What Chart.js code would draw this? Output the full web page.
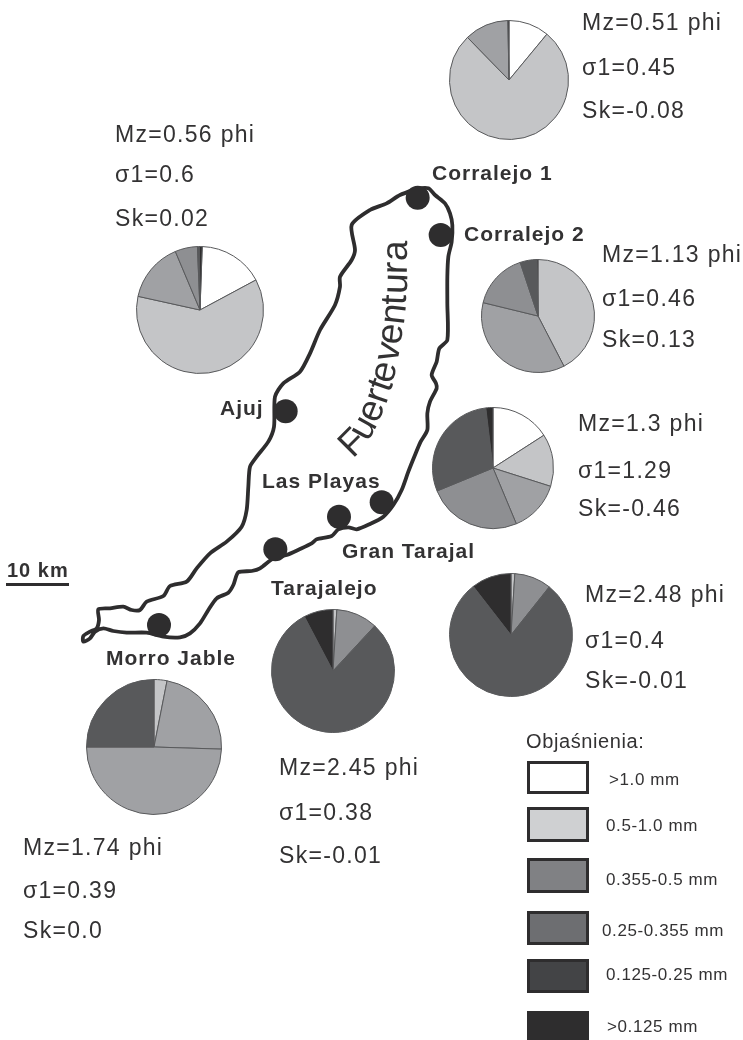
<!DOCTYPE html>
<html>
<head>
<meta charset="utf-8">
<script src="https://cdn.jsdelivr.net/npm/chart.js@4/dist/chart.umd.min.js"></script>
<style>
html, body { margin: 0; padding: 0; background: #fff; }
#page { position: relative; width: 743px; height: 1040px; overflow: hidden; font-family: "Liberation Sans", Arial, sans-serif; color: #333233; }
#page canvas { position: absolute; }
.t { position: absolute; white-space: pre; line-height: 1; }
.stat { font-size: 23px; letter-spacing: 1.3px; }
.name { font-size: 21px; font-weight: bold; letter-spacing: 1px; }
.leg { font-size: 17px; letter-spacing: 0.6px; }
.swatch { position: absolute; left: 527px; width: 62px; box-sizing: border-box; border: 3px solid #2e2d2e; }
.curve span { position: absolute; line-height: 1; white-space: pre; }
</style>
</head>
<body>
<div id="page">
  <canvas id="map" width="743" height="1040" style="left:0;top:0"></canvas>
</div>
<script>
// Klasy ziarnowe
const sizeClasses = ['>1.0 mm', '0.5-1.0 mm', '0.355-0.5 mm', '0.25-0.355 mm', '0.125-0.25 mm', '>0.125 mm'];

// Udzialy frakcji w probkach (%)
const sampleMz051 = [11, 76.7, 12, 0, 0, 0.3];
const sampleMz056 = [16.6, 61.3, 15.2, 5.7, 0.5, 0.7];
const sampleMz113 = [0, 42.4, 36.4, 16.1, 4.8, 0.3];
const sampleMz130 = [15.9, 14, 13.8, 25.1, 29.3, 1.9];
const sampleMz248 = [0, 1, 0, 9.7, 78.8, 10.5];
const sampleMz245 = [0, 1, 0, 10.9, 80.4, 7.7];
const sampleMz174 = [0, 3.1, 22.4, 49.5, 25, 0];

// Parametry uziarnienia
const statMz = ['0.51', '0.56', '1.13', '1.3', '2.48', '2.45', '1.74'];
const statSigma = ['0.45', '0.6', '0.46', '1.29', '0.4', '0.38', '0.39'];
const statSk = ['-0.08', '0.02', '0.13', '-0.46', '-0.01', '-0.01', '0.0'];

// Linia brzegowa i stanowiska, wspolrzedne mapy
const coastX = [1255,1285,1305,1335,1350,1357,1355,1345,1342,1342,1342,1318,1310,1295,1308,1310,1290,1282,1282,1262,1245,1225,1205,1180,1150,1110,1070,1045,1015,995,950,935,900,860,820,780,755,715,700,685,650,625,600,570,540,490,440,380,340,310,285,270,250,250,270,290,297,295,330,370,395,420,440,490,510,560,590,630,680,725,740,745,750,770,805,822,825,850,900,930,960,1005,1020,1020,1055,1065,1055,1110,1160,1200,1255];
const coastY = [55,55,75,100,130,165,215,260,320,400,510,535,575,615,640,655,695,730,780,815,855,905,960,1005,1040,1062,1078,1072,1078,1098,1108,1120,1137,1155,1165,1195,1203,1207,1245,1268,1285,1320,1360,1390,1402,1400,1388,1388,1383,1375,1385,1405,1415,1398,1385,1375,1350,1318,1315,1310,1320,1320,1295,1278,1248,1235,1195,1150,1115,1070,1020,950,890,860,815,770,680,640,605,550,480,405,350,320,270,240,165,120,100,75,55];
const siteNames = ['Corralejo 1', 'Corralejo 2', 'Ajuj', 'Las Playas', 'Gran Tarajal', 'Tarajalejo', 'Morro Jable'];
const siteX = [1253, 1322, 857, 1145, 1017, 826, 477];
const siteY = [83, 195, 724, 997, 1040, 1138, 1365];

const pieColors = ['#ffffff', '#c4c5c7', '#a0a1a4', '#8e8f92', '#58595b', '#2e2d2e'];
const morroColors = ['#ffffff', '#c4c5c7', '#a0a1a4', '#a0a1a4', '#58595b', '#2e2d2e'];
const legendFills = ['#ffffff', '#cfd0d2', '#808184', '#6d6e71', '#434446', '#2e2d2e'];

const page = document.getElementById('page');

function addText(x, base, str, cls, size) {
  const d = document.createElement('div');
  d.className = 't ' + cls;
  d.textContent = str;
  d.style.fontSize = size + 'px';
  d.style.left = x + 'px';
  d.style.top = (base - 0.8465 * size) + 'px';
  page.appendChild(d);
  return d;
}

// Napis wzdluz wyspy, litery ida po lamanej
function addCurvedText(str, path, size) {
  const box = document.createElement('div');
  box.className = 'curve';
  const meas = document.createElement('canvas').getContext('2d');
  meas.font = size + 'px "Liberation Sans"';
  let seg = 0, used = 0;
  function walk(dist) {
    used += dist;
    while (seg < path.length - 2) {
      const len = Math.hypot(path[seg + 1][0] - path[seg][0], path[seg + 1][1] - path[seg][1]);
      if (used <= len) break;
      used -= len;
      seg++;
    }
    const a = path[seg], b = path[seg + 1];
    const len = Math.hypot(b[0] - a[0], b[1] - a[1]);
    return { x: a[0] + (b[0] - a[0]) * used / len, y: a[1] + (b[1] - a[1]) * used / len, angle: Math.atan2(b[1] - a[1], b[0] - a[0]) };
  }
  str.split('').forEach(ch => {
    const w = meas.measureText(ch).width;
    const start = walk(0);
    const mid = walk(w / 2);
    walk(w / 2);
    const s = document.createElement('span');
    s.textContent = ch;
    s.style.fontSize = size + 'px';
    s.style.left = start.x + 'px';
    s.style.top = (start.y - 0.8465 * size) + 'px';
    s.style.transformOrigin = '0 ' + (0.8465 * size) + 'px';
    s.style.transform = 'rotate(' + mid.angle + 'rad)';
    box.appendChild(s);
  });
  page.appendChild(box);
}

// Mapa
new Chart(document.getElementById('map').getContext('2d'), {
  type: 'scatter',
  data: {
    datasets: [{
      data: siteX.map((x, i) => ({ x: x, y: siteY[i] })),
      pointRadius: 12,
      pointBackgroundColor: '#2e2d2e',
      pointBorderWidth: 0
    }, {
      data: coastX.map((x, i) => ({ x: x, y: coastY[i] })),
      showLine: true,
      borderColor: '#2e2d2e',
      borderWidth: 3.8,
      borderJoinStyle: 'round',
      tension: 0.25,
      pointRadius: 0
    }]
  },
  options: {
    responsive: false,
    animation: false,
    events: [],
    layout: { padding: 0, autoPadding: false },
    plugins: { legend: { display: false }, tooltip: { enabled: false } },
    scales: {
      x: { type: 'linear', min: 0, max: 2229, display: false },
      y: { type: 'linear', min: -510, max: 2610, reverse: true, display: false }
    }
  }
});

// Wykresy kolowe
function addPie(values, colors, cx, cy, r, rotation) {
  const c = document.createElement('canvas');
  c.width = c.height = 2 * r + 2;
  c.style.left = (cx - r - 1) + 'px';
  c.style.top = (cy - r - 1) + 'px';
  page.appendChild(c);
  new Chart(c.getContext('2d'), {
    type: 'pie',
    data: {
      labels: sizeClasses,
      datasets: [{ data: values, backgroundColor: colors, borderColor: '#58595b', borderWidth: 1 }]
    },
    options: {
      responsive: false,
      animation: false,
      events: [],
      rotation: rotation,
      layout: { padding: 1 },
      plugins: { legend: { display: false }, tooltip: { enabled: false } }
    }
  });
}

addPie(sampleMz051, pieColors, 509, 80, 60, 0);
addPie(sampleMz056, pieColors, 200, 310, 64, 2);
addPie(sampleMz113, pieColors, 538, 316, 57, 0);
addPie(sampleMz130, pieColors, 493, 468, 61, 0);
addPie(sampleMz248, pieColors, 511, 635, 62, 0);
addPie(sampleMz245, pieColors, 333, 671, 62, 0);
addPie(sampleMz174, morroColors, 154, 747, 68, 0);

// Opisy probek
const statPos = [[582, 30, 75, 118], [115, 142, 182, 226], [602, 262, 306, 347], [578, 431, 478, 516], [585, 602, 648, 688], [279, 775, 820, 863], [23, 855, 898, 938]];
statPos.forEach((p, i) => {
  addText(p[0], p[1], 'Mz=' + statMz[i] + ' phi', 'stat', 23);
  addText(p[0], p[2], '\u03c31=' + statSigma[i], 'stat', 23);
  addText(p[0], p[3], 'Sk=' + statSk[i], 'stat', 23);
});

// Nazwy stanowisk
const namePos = [[432, 180], [464, 241], [220, 415], [262, 488], [342, 558], [271, 595], [106, 665]];
siteNames.forEach((n, i) => addText(namePos[i][0], namePos[i][1], n, 'name', 21));

addCurvedText('Fuerteventura', [[353, 459], [367, 445], [377, 427], [385, 407], [392, 387], [397, 363], [403, 337], [406, 310], [407, 280], [408, 232]], 37);

addText(7, 577, '10 km', 'name', 20);
const scaleBar = document.createElement('div');
scaleBar.style.cssText = 'position:absolute;left:6px;top:583px;width:63px;height:3px;background:#2e2d2e';
page.appendChild(scaleBar);

// Objasnienia
addText(526, 748, 'Objaśnienia:', 'leg', 20);
const swatchTop = [761, 807, 858, 911, 959, 1011];
const swatchHeight = [33, 35, 35, 34, 34, 29];
const legendLabelX = [609, 606, 606, 602, 606, 607];
const legendLabelBase = [785, 831, 885, 936, 980, 1032];
sizeClasses.forEach((n, i) => {
  const s = document.createElement('div');
  s.className = 'swatch';
  s.style.top = swatchTop[i] + 'px';
  s.style.height = swatchHeight[i] + 'px';
  s.style.background = legendFills[i];
  page.appendChild(s);
  addText(legendLabelX[i], legendLabelBase[i], n, 'leg', 17);
});
</script>
</body>
</html>
